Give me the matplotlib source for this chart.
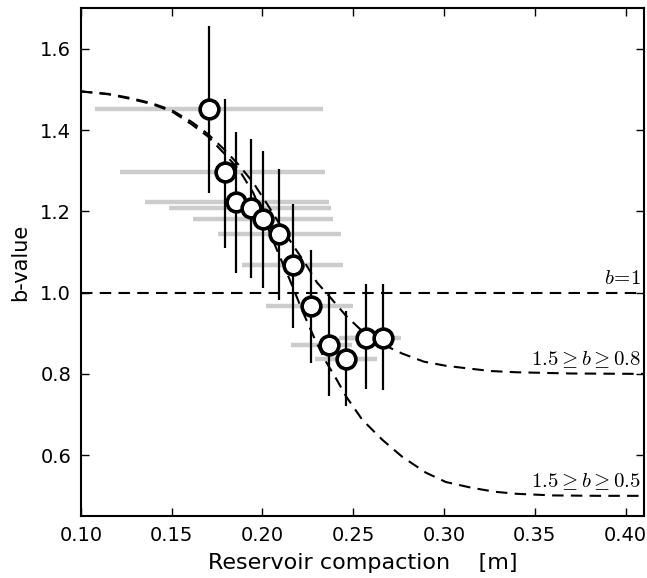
import matplotlib
matplotlib.use("Agg")
import matplotlib.pyplot as plt

# observed b-values vs. reservoir compaction
compaction = [0.1705, 0.1791, 0.1855, 0.1938, 0.2005, 0.2093,
              0.2170, 0.2268, 0.2368, 0.2460, 0.2573, 0.2665]
b_value = [1.451, 1.296, 1.222, 1.209, 1.182, 1.145,
           1.067, 0.966, 0.872, 0.837, 0.888, 0.888]
b_low = [1.244, 1.110, 1.049, 1.036, 1.012, 0.981,
         0.913, 0.827, 0.746, 0.720, 0.763, 0.761]
b_high = [1.655, 1.477, 1.396, 1.379, 1.348, 1.305,
          1.218, 1.106, 0.999, 0.954, 1.020, 1.020]
comp_left = [0.1077, 0.1218, 0.1352, 0.1484, 0.1617, 0.1754,
             0.1888, 0.2020, 0.2158, 0.2290, 0.2423, 0.2460]
comp_right = [0.2335, 0.2346, 0.2364, 0.2380, 0.2386, 0.2432,
              0.2445, 0.2500, 0.2495, 0.2630, 0.2720, 0.2762]

# model curve 1.5 >= b >= 0.5
curve_a_x = [0.100, 0.115, 0.127, 0.139, 0.150, 0.161, 0.170, 0.179, 0.187,
             0.195, 0.202, 0.209, 0.215, 0.222, 0.229, 0.235, 0.241, 0.246,
             0.255, 0.266, 0.277, 0.290, 0.301, 0.315, 0.328, 0.340, 0.360,
             0.385, 0.410]
curve_a_b = [1.495, 1.488, 1.477, 1.464, 1.446, 1.414, 1.384, 1.342, 1.303,
             1.245, 1.170, 1.094, 1.032, 0.955, 0.884, 0.830, 0.785, 0.745,
             0.687, 0.638, 0.596, 0.557, 0.534, 0.520, 0.510, 0.505, 0.501,
             0.500, 0.500]

# model curve 1.5 >= b >= 0.8
curve_b_x = [0.100, 0.115, 0.127, 0.139, 0.150, 0.161, 0.170, 0.179, 0.187,
             0.195, 0.202, 0.209, 0.216, 0.224, 0.230, 0.237, 0.246, 0.255,
             0.266, 0.277, 0.289, 0.301, 0.314, 0.326, 0.340, 0.370, 0.410]
curve_b_b = [1.495, 1.489, 1.479, 1.466, 1.449, 1.420, 1.390, 1.352, 1.314,
             1.270, 1.222, 1.172, 1.122, 1.069, 1.025, 0.990, 0.943, 0.905,
             0.873, 0.850, 0.830, 0.820, 0.813, 0.807, 0.804, 0.801, 0.800]

x_ticks = [0.10, 0.15, 0.20, 0.25, 0.30, 0.35, 0.40]
y_ticks = [0.6, 0.8, 1.0, 1.2, 1.4, 1.6]

plt.rcParams['mathtext.fontset'] = 'cm'

fig = plt.figure(figsize=(6.47, 5.78), dpi=100)
ax = fig.add_axes([0.125, 0.107, 0.870, 0.879])

dash = (0, (5.5, 3.5))
ax.hlines(b_value, comp_left, comp_right, colors='#cccccc', linewidth=3.2, zorder=1)
ax.axhline(1.0, color='black', linestyle=dash, linewidth=1.5, zorder=2)
ax.plot(curve_b_x, curve_b_b, color='black', linestyle=dash, linewidth=1.5, zorder=2)
ax.plot(curve_a_x, curve_a_b, color='black', linestyle=dash, linewidth=1.5, zorder=2)
ax.vlines(compaction, b_low, b_high, colors='black', linewidth=1.6, zorder=3)
ax.plot(compaction, b_value, 'o', markersize=13.5, markerfacecolor='white',
        markeredgecolor='black', markeredgewidth=2.6, zorder=4)

ax.text(0.4085, 1.012, r'$b\!=\!1$', ha='right', va='bottom', fontsize=15)
ax.text(0.4085, 0.810, r'$1.5 \geq b \geq 0.8$', ha='right', va='bottom', fontsize=15)
ax.text(0.4085, 0.510, r'$1.5 \geq b \geq 0.5$', ha='right', va='bottom', fontsize=15)

ax.set_xlim(0.10, 0.41)
ax.set_ylim(0.45, 1.70)
ax.set_xticks(x_ticks)
ax.set_xticklabels([f'{t:.2f}' for t in x_ticks])
ax.set_yticks(y_ticks)
ax.set_yticklabels([f'{t:.1f}' for t in y_ticks])
ax.tick_params(direction='in', top=True, right=True, length=6, width=1,
               labelsize=14, pad=7)
for s in ax.spines.values():
    s.set_linewidth(1.5)

ax.set_xlabel('Reservoir compaction    [m]', fontsize=16, labelpad=6)
ax.set_ylabel('b-value', fontsize=15, labelpad=7)

fig.savefig('out.png', dpi=100)
